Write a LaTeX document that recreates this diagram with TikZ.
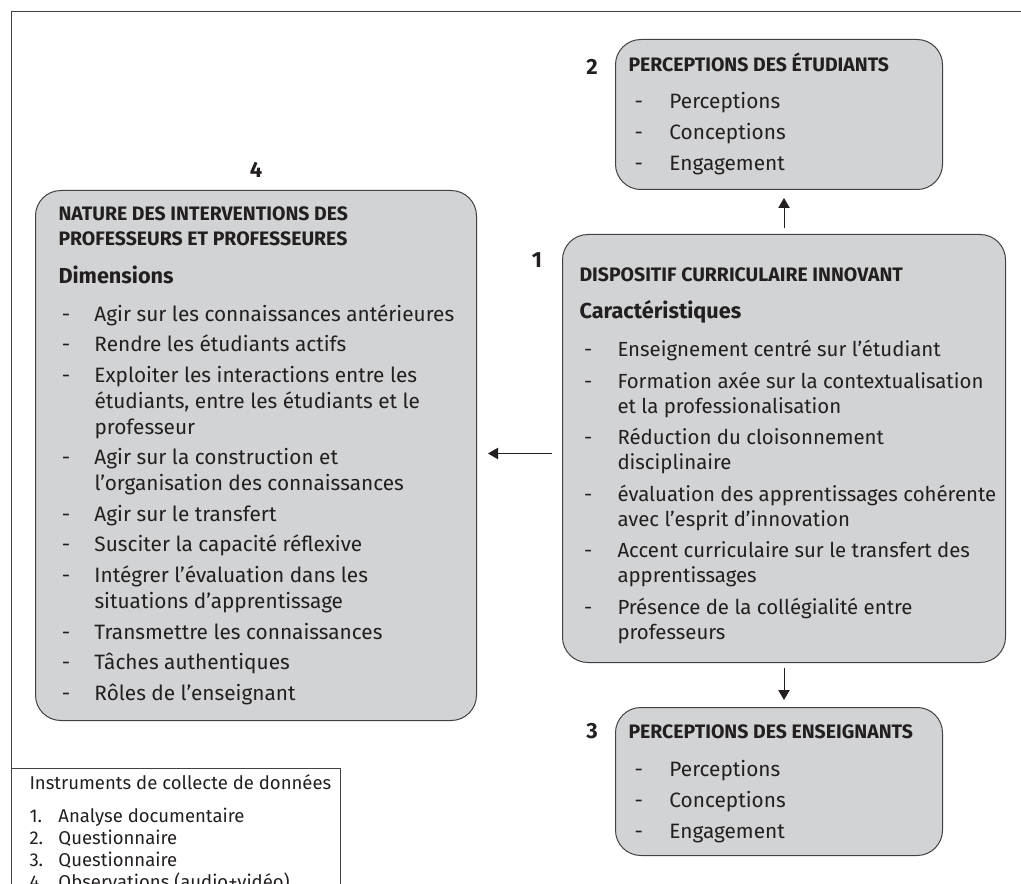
\documentclass[tikz,border=0pt]{standalone}
\usepackage{fontspec}
\setmainfont{Fira Sans}
\usetikzlibrary{positioning,arrows.meta}
\definecolor{boxfill}{RGB}{209,211,212}
\definecolor{boxline}{RGB}{65,64,66}
\definecolor{ink}{RGB}{35,31,32}
\newlength{\retrait}
\newlength{\tiretpos}
\newlength{\ecart}
\newcommand{\tiret}[1]{\par\vspace{\ecart}\hangindent=\retrait\hangafter=1\noindent\makebox[\retrait][l]{\hspace{\tiretpos}-}#1\par}
\newcommand{\instr}[2]{\par\hangindent=\retrait\hangafter=1\noindent\makebox[\retrait][l]{#1}#2\par}
\tikzset{main box/.style={draw=boxline,fill=boxfill,line width=0.75pt,rounded corners=19pt,inner xsep=0pt,inner ysep=12pt,anchor=north west,text=ink},
            legend box/.style={draw=boxline,line width=0.75pt,inner xsep=0pt,inner ysep=4.5pt,anchor=north west,text=ink},
            numero/.style={font=\fontsize{16.5}{19}\selectfont\bfseries,text=ink,inner sep=0pt,anchor=base},
            fleche/.style={draw=ink,line width=0.75pt,-{Triangle[width=8.5pt,length=7.5pt]}},
            }

\begin{document}
\begin{tikzpicture}[x=0.75pt,y=-0.75pt]
    \useasboundingbox (0,0) rectangle (1021,884);
    \clip (0,0) rectangle (1021,884);
    \coordinate (haut) at (1021,12);
    \coordinate (coin) at (11,12);
    \coordinate (bas) at (11,884);
    \draw[boxline,line width=0.75pt] (haut) -- (coin) -- (bas);

    % 4 : interventions
    \node[main box] (b4) at (35,190) {\parbox[t][373.5pt][t]{330.75pt}{\raggedright\leftskip=17.25pt\parskip=0pt
        \setlength{\retrait}{27pt}\setlength{\tiretpos}{2.5pt}\setlength{\ecart}{3.4pt}%
        \fontsize{15.6}{19.5}\selectfont
        {\fontsize{14.6}{18.75}\selectfont\bfseries\rule{0pt}{10pt}NATURE DES INTERVENTIONS DES\\PROFESSEURS ET PROFESSEURES\par}
        \vspace{9pt}{\fontsize{16.25}{19.5}\selectfont\bfseries Dimensions\par}
        \vspace{5.6pt}%
        \tiret{Agir sur les connaissances antérieures}
        \tiret{Rendre les étudiants actifs}
        \tiret{Exploiter les interactions entre les\newline étudiants, entre les étudiants et le\newline professeur}
        \tiret{Agir sur la construction et\newline l’organisation des connaissances}
        \tiret{Agir sur le transfert}
        \tiret{Susciter la capacité réflexive}
        \tiret{Intégrer l’évaluation dans les\newline situations d’apprentissage}
        \tiret{Transmettre les connaissances}
        \tiret{Tâches authentiques}
        \tiret{Rôles de l’enseignant}}};

    % 1 : dispositif
    \node[main box] (b1) at (562,234) {\parbox[t][297pt][t]{332.25pt}{\raggedright\leftskip=12.75pt\parskip=0pt
        \setlength{\retrait}{28.5pt}\setlength{\tiretpos}{3.5pt}\setlength{\ecart}{4.9pt}%
        \fontsize{15.3}{18.75}\selectfont
        {\fontsize{14.6}{18.75}\selectfont\bfseries\rule{0pt}{23.25pt}DISPOSITIF CURRICULAIRE INNOVANT\par}
        \vspace{9pt}{\fontsize{16.25}{18.75}\selectfont\bfseries Caractéristiques\par}
        \vspace{4.85pt}%
        \tiret{Enseignement centré sur l’étudiant}
        \tiret{Formation axée sur la contextualisation\newline et la professionalisation}
        \tiret{Réduction du cloisonnement\newline disciplinaire}
        \tiret{évaluation des apprentissages cohérente\newline avec l’esprit d’innovation}
        \tiret{Accent curriculaire sur le transfert des\newline apprentissages}
        \tiret{Présence de la collégialité entre\newline professeurs}}};

    % 2 : etudiants
    \node[main box,inner ysep=10pt] (b2) at (615,39) {\parbox[t][92.5pt][t]{245.25pt}{\raggedright\leftskip=9.75pt\parskip=0pt
        \setlength{\retrait}{30.75pt}\setlength{\tiretpos}{4.5pt}\setlength{\ecart}{0pt}%
        \fontsize{15.6}{23.25}\selectfont
        {\fontsize{14.6}{18.75}\selectfont\bfseries\rule{0pt}{14pt}PERCEPTIONS DES ÉTUDIANTS\par}
        \vspace{4.5pt}%
        \tiret{Perceptions}
        \tiret{Conceptions}
        \tiret{Engagement}}};

    % 3 : enseignants
    \node[main box,inner ysep=10pt] (b3) at (615,707) {\parbox[t][91pt][t]{245.25pt}{\raggedright\leftskip=9.75pt\parskip=0pt
        \setlength{\retrait}{30.75pt}\setlength{\tiretpos}{4.5pt}\setlength{\ecart}{0pt}%
        \fontsize{15.6}{23.25}\selectfont
        {\fontsize{14.6}{18.75}\selectfont\bfseries\rule{0pt}{13.25pt}PERCEPTIONS DES ENSEIGNANTS\par}
        \vspace{5.25pt}%
        \tiret{Perceptions}
        \tiret{Conceptions}
        \tiret{Engagement}}};

    % legende
    \node[legend box] (lg) at (11,768) {\parbox[t][88.5pt][t]{246.75pt}{\raggedright\leftskip=13.5pt\parskip=0pt
        \setlength{\retrait}{21.75pt}%
        \fontsize{13.9}{16.5}\selectfont
        \rule{0pt}{9.75pt}Instruments de collecte de données\par
        \vspace{8.25pt}%
        \instr{1.}{Analyse documentaire}
        \instr{2.}{Questionnaire}
        \instr{3.}{Questionnaire}
        \instr{4.}{Observations (audio+vidéo)}}};

    \node[numero,above=9pt of b4] (n4) {4};
    \node[numero] (n1) at ([shift={(-25,34)}]b1.north west) {1};
    \node[numero] (n2) at ([shift={(-23,36)}]b2.north west) {2};
    \node[numero] (n3) at ([shift={(-23,31)}]b3.north west) {3};

    \draw[fleche,shorten <=4.5pt,shorten >=6pt] (b1.north) -- (b1.north |- b2.south);
    \draw[fleche,shorten <=3.75pt,shorten >=5.25pt] (b1.south) -- (b1.south |- b3.north);
    \draw[fleche,shorten <=7.5pt,shorten >=8.25pt] ([yshift=-3.75pt]b1.west) -- ([yshift=-3.75pt]b1.west -| b4.east);
    %%
\end{tikzpicture}
\end{document}
